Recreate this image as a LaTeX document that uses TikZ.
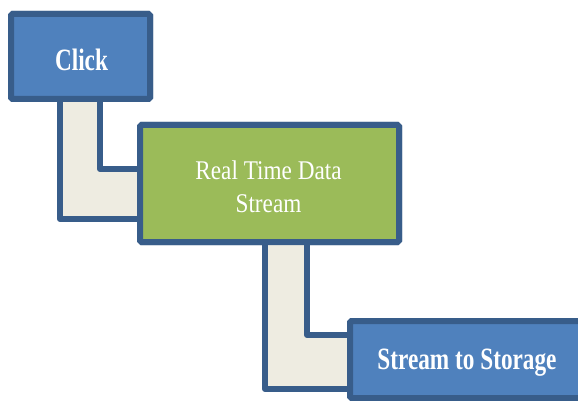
\documentclass[tikz,border=0pt]{standalone}
\usepackage{fontspec}
\setmainfont{Liberation Serif}
\newfontfamily\headfont[FakeStretch=0.75]{Liberation Serif}
\newfontfamily\bodyfont[FakeStretch=0.86]{Liberation Serif}
\usetikzlibrary{calc}
\definecolor{boxblue}{HTML}{4F81BD}
\definecolor{boxgreen}{HTML}{9BBB59}
\definecolor{edgeblue}{HTML}{385D8A}
\definecolor{bandfill}{HTML}{EEECE1}
\tikzset{
  panel/.style={draw=edgeblue, line width=6pt, rounded corners=1.5pt,
    inner sep=0pt, outer sep=0pt},
  bluepanel/.style={panel, fill=boxblue},
  greenpanel/.style={panel, fill=boxgreen},
  headtext/.style={text=white, inner sep=0pt, font=\headfont\bfseries\fontsize{31}{34}\selectfont},
  bodytext/.style={text=white, inner sep=0pt, align=center, font=\bodyfont\fontsize{27}{33}\selectfont},
  band/.style={draw=edgeblue, fill=bandfill, line width=6pt, line join=round}
}
\begin{document}
\begin{tikzpicture}[x=1pt,y=-1pt]
  \useasboundingbox (0,0) rectangle (578,401);
  \clip (0,0) rectangle (578,401);

  % stage boxes (placed first so the bands can refer to them)
  \path node[bluepanel, minimum width=139pt, minimum height=85pt] (click) at (80.5,56.5) {};
  \path node[greenpanel, minimum width=259pt, minimum height=117pt] (stream) at (269.5,183.5) {};
  \path node[bluepanel, minimum width=233pt, minimum height=77pt] (store) at (466.5,359.5) {};

  % elbow bands linking the stages
  \draw[band] ($(click.south west)+(49,-4)$) -- ($(click.south west)+(89,-4)$)
     |- ($(stream.west)+(6,-14.5)$) -- ($(stream.west)+(6,35.5)$)
     -| ($(click.south west)+(49,-4)$) -- cycle;
  \draw[band] ($(stream.south west)+(125,-4)$) -- ($(stream.south west)+(167,-4)$)
     |- ($(store.west)+(6,-24.5)$) -- ($(store.west)+(6,29.5)$)
     -| ($(stream.south west)+(125,-4)$) -- cycle;

  % boxes redrawn on top of the bands
  \node[bluepanel, minimum width=139pt, minimum height=85pt] at (click) {};
  \node[greenpanel, minimum width=259pt, minimum height=117pt] at (stream) {};
  \node[bluepanel, minimum width=233pt, minimum height=77pt] at (store) {};

  % labels
  \node[headtext] (clicklab) at ($(click)+(1,3)$) {Click};
  \node[bodytext] (streamlab) at ($(stream)+(-1,3)$) {Real Time Data\\Stream};
  \node[headtext] (storelab) at (467,363) {Stream to Storage};
\end{tikzpicture}
\end{document}
